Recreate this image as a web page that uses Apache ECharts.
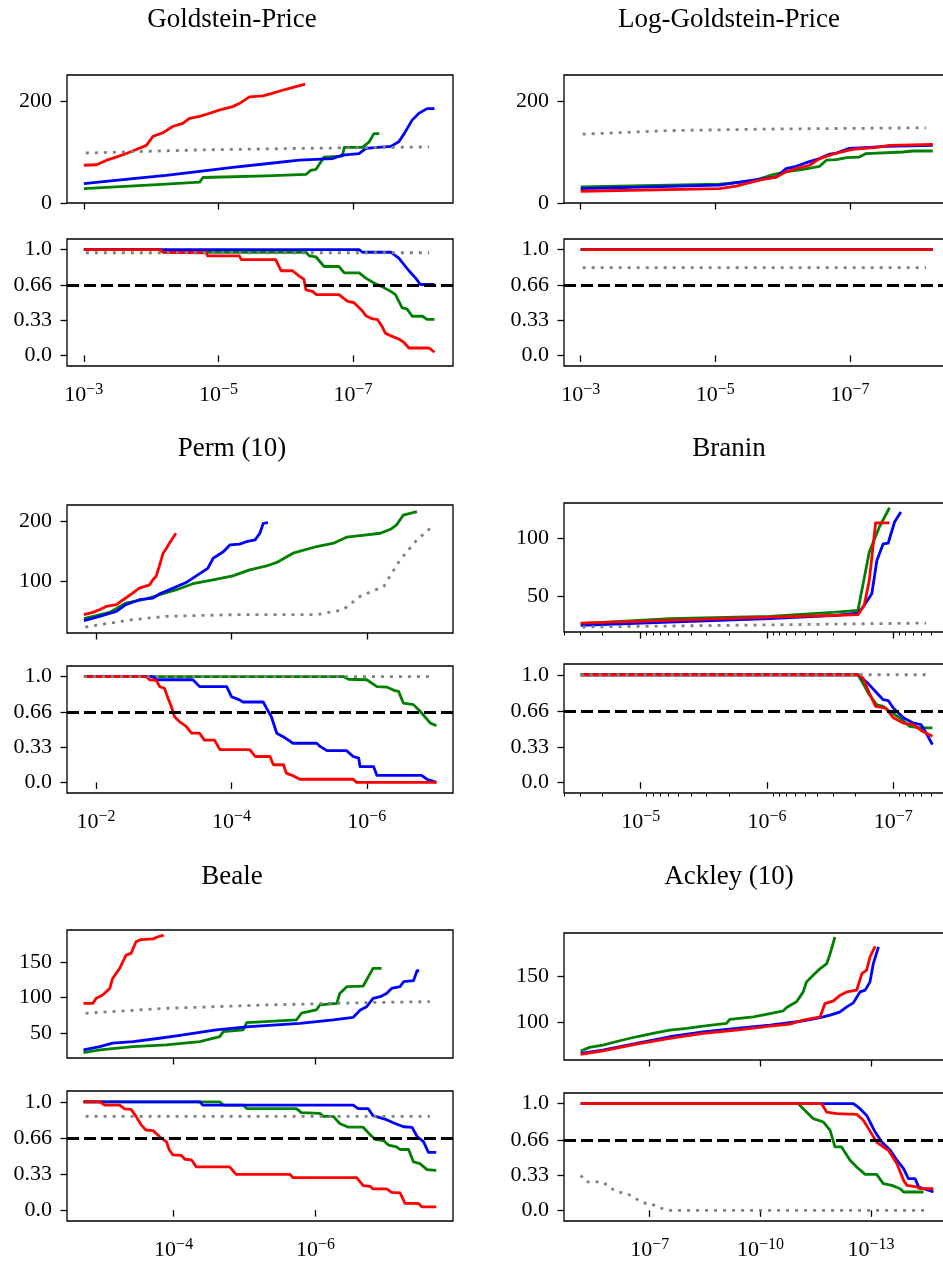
<!DOCTYPE html>
<html>
<head>
<meta charset="utf-8">
<script src="https://cdn.jsdelivr.net/npm/echarts@6/dist/echarts.min.js"></script>
<style>
  html, body { margin: 0; padding: 0; background: #fff; }
  #main { width: 943px; height: 1261px; }
</style>
</head>
<body>
<div id="main"></div>
<script>
// x = log10(tolerance). top rows: evaluations, bottom rows: success fraction

// Goldstein-Price
const gpTopGreen = [[-3.00,28],[-4.22,37],[-4.72,41],[-4.77,50],[-5.71,53],[-6.30,56],[-6.37,64],[-6.45,66],[-6.57,90],[-6.84,92],[-6.87,109],[-7.14,109],[-7.24,120],[-7.31,136],[-7.39,136]];
const gpTopBlue = [[-3.00,38],[-3.73,48],[-4.22,54],[-4.72,62],[-5.21,70],[-5.71,77],[-6.20,84],[-6.69,87],[-6.84,94],[-7.09,97],[-7.19,107],[-7.56,111],[-7.68,120],[-7.76,136],[-7.88,163],[-7.98,176],[-8.10,185],[-8.21,185]];
const gpTopRed = [[-3.00,74],[-3.19,75],[-3.34,84],[-3.48,90],[-3.63,97],[-3.78,105],[-3.93,113],[-4.03,131],[-4.18,138],[-4.32,150],[-4.47,156],[-4.57,166],[-4.72,170],[-4.87,176],[-5.01,182],[-5.21,189],[-5.31,195],[-5.46,208],[-5.66,210],[-5.80,215],[-6.00,223],[-6.15,228],[-6.29,233]];
const gpTopGray = [[-3.03,98],[-4.69,104],[-6.17,107],[-8.13,110]];
const gpBotGreen = [[-3.00,1.0],[-4.13,1.0],[-4.18,0.975],[-6.30,0.975],[-6.35,0.94],[-6.45,0.93],[-6.57,0.84],[-6.79,0.84],[-6.87,0.78],[-7.09,0.78],[-7.19,0.73],[-7.31,0.685],[-7.43,0.65],[-7.56,0.605],[-7.63,0.575],[-7.73,0.45],[-7.80,0.44],[-7.88,0.37],[-8.03,0.37],[-8.10,0.34],[-8.21,0.34]];
const gpBotBlue = [[-3.00,1.0],[-7.09,1.0],[-7.14,0.975],[-7.56,0.975],[-7.68,0.92],[-7.83,0.80],[-7.93,0.73],[-8.00,0.67],[-8.21,0.67]];
const gpBotRed = [[-3.00,1.0],[-4.13,1.0],[-4.18,0.975],[-4.82,0.97],[-4.84,0.94],[-5.31,0.94],[-5.34,0.905],[-5.85,0.905],[-5.93,0.80],[-6.10,0.80],[-6.20,0.75],[-6.27,0.72],[-6.30,0.62],[-6.40,0.605],[-6.45,0.575],[-6.79,0.575],[-6.92,0.51],[-7.01,0.50],[-7.14,0.42],[-7.19,0.375],[-7.29,0.345],[-7.36,0.34],[-7.43,0.275],[-7.48,0.21],[-7.58,0.18],[-7.68,0.155],[-7.76,0.12],[-7.83,0.07],[-8.13,0.07],[-8.21,0.03]];
const gpBotGray = [[-3.03,0.97],[-8.13,0.97]];

// Log-Goldstein-Price
const lgpTopGreen = [[-3.00,31.5],[-5.06,37],[-5.56,43],[-5.81,54],[-6.05,61],[-6.30,66],[-6.55,72],[-6.65,84],[-6.80,85],[-6.95,89],[-7.14,90],[-7.24,97],[-7.79,100],[-7.94,102],[-8.23,102]];
const lgpTopBlue = [[-3.00,28],[-5.06,35],[-5.56,45],[-5.91,51],[-6.05,67.5],[-6.20,72],[-6.35,79],[-6.55,87],[-6.70,96],[-6.80,98],[-6.99,107],[-7.29,109],[-7.54,111],[-8.23,113]];
const lgpTopRed = [[-3.00,23],[-5.06,28],[-5.31,33],[-5.66,45],[-5.91,51],[-6.05,61],[-6.20,67.5],[-6.40,74],[-6.55,87],[-6.80,98],[-7.04,105],[-7.39,109],[-7.59,113],[-8.23,115]];
const lgpTopGray = [[-3.03,135],[-4.32,142],[-5.81,145],[-8.13,147.5]];
const lgpBotGreen = [[-3.00,1.0],[-8.23,1.0]];
const lgpBotBlue = [[-3.00,1.0],[-8.23,1.0]];
const lgpBotRed = [[-3.00,1.0],[-8.23,1.0]];
const lgpBotGray = [[-3.03,0.83],[-8.13,0.83]];

// Perm (10)
const permTopGreen = [[-1.82,36],[-2.20,46.6],[-2.44,62.4],[-2.69,68],[-2.94,76.4],[-3.19,84.8],[-3.43,95],[-3.73,101.7],[-4.02,108.4],[-4.27,118.5],[-4.52,125],[-4.67,131],[-4.91,146.6],[-5.26,157.9],[-5.51,163.5],[-5.70,173.6],[-6.00,177.5],[-6.20,180.3],[-6.35,187],[-6.44,194.4],[-6.54,211],[-6.74,216.9]];
const permTopBlue = [[-1.82,32.6],[-2.05,40],[-2.30,48.3],[-2.44,59.6],[-2.64,68],[-2.84,70.8],[-2.94,78],[-3.14,87.6],[-3.33,97],[-3.48,108.4],[-3.65,121],[-3.73,138],[-3.88,149],[-3.98,160.7],[-4.12,162],[-4.22,166],[-4.35,169],[-4.42,180.3],[-4.47,197],[-4.54,198.3]];
const permTopRed = [[-1.82,42.7],[-1.95,46.6],[-2.05,51],[-2.15,56.7],[-2.30,59.6],[-2.40,68],[-2.54,79],[-2.64,87.6],[-2.79,93],[-2.84,101.7],[-2.89,108.4],[-2.94,127],[-2.99,146.6],[-3.04,155],[-3.09,164.6],[-3.18,180.3]];
const permTopGray = [[-1.84,21.9],[-2.05,25.8],[-2.54,34.3],[-3.04,40],[-4.02,42.7],[-5.26,42.7],[-5.65,51],[-5.90,73.6],[-6.25,90.4],[-6.49,135],[-6.74,169],[-6.94,188.8]];
const permBotGreen = [[-1.82,1.0],[-5.65,1.0],[-5.73,0.975],[-6.00,0.97],[-6.15,0.905],[-6.30,0.90],[-6.40,0.87],[-6.47,0.86],[-6.54,0.75],[-6.69,0.735],[-6.79,0.67],[-6.94,0.56],[-7.03,0.535]];
const permBotBlue = [[-1.82,1.0],[-2.84,1.0],[-2.89,0.97],[-3.43,0.97],[-3.53,0.905],[-3.93,0.905],[-4.00,0.81],[-4.12,0.78],[-4.17,0.76],[-4.47,0.76],[-4.52,0.70],[-4.59,0.62],[-4.67,0.465],[-4.77,0.43],[-4.91,0.37],[-5.26,0.37],[-5.31,0.34],[-5.41,0.30],[-5.70,0.30],[-5.80,0.245],[-5.88,0.23],[-5.90,0.15],[-6.10,0.15],[-6.15,0.066],[-6.81,0.066],[-6.89,0.03],[-7.03,0.0]];
const permBotRed = [[-1.82,1.0],[-2.74,1.0],[-2.79,0.97],[-2.89,0.965],[-2.94,0.905],[-3.01,0.89],[-3.06,0.80],[-3.11,0.72],[-3.16,0.62],[-3.23,0.575],[-3.33,0.53],[-3.41,0.465],[-3.53,0.465],[-3.60,0.40],[-3.75,0.40],[-3.83,0.31],[-4.27,0.31],[-4.35,0.245],[-4.57,0.245],[-4.62,0.167],[-4.77,0.167],[-4.81,0.088],[-4.91,0.063],[-5.01,0.03],[-5.80,0.03],[-5.85,0.0],[-7.03,0.0]];
const permBotGray = [[-1.82,1.0],[-6.94,1.0]];

// Branin
const braninTopGreen = [[-4.525,26.1],[-5.23,30.5],[-6.02,32.5],[-6.55,36.2],[-6.72,37.6],[-6.81,88],[-6.89,109.5],[-6.97,126.1]];
const braninTopBlue = [[-4.525,24.7],[-5.23,27.6],[-6.02,30.5],[-6.55,33.3],[-6.72,35.3],[-6.77,42],[-6.83,52],[-6.87,80.7],[-6.92,95],[-6.96,95.7],[-7.01,113.8],[-7.06,122.4]];
const braninTopRed = [[-4.525,26.7],[-5.23,29],[-6.02,31.9],[-6.55,33.3],[-6.72,33.9],[-6.77,42],[-6.81,63.5],[-6.86,113],[-6.97,113]];
const braninTopGray = [[-4.54,23.3],[-7.26,26.7]];
const braninBotGreen = [[-4.525,1.0],[-6.72,1.0],[-6.76,0.92],[-6.81,0.814],[-6.87,0.72],[-6.92,0.706],[-6.97,0.66],[-7.05,0.6],[-7.13,0.52],[-7.21,0.505],[-7.31,0.505]];
const braninBotBlue = [[-4.525,1.0],[-6.72,1.0],[-6.80,0.92],[-6.87,0.83],[-6.92,0.768],[-6.96,0.76],[-7.00,0.69],[-7.08,0.6],[-7.16,0.55],[-7.22,0.535],[-7.26,0.458],[-7.31,0.35]];
const braninBotRed = [[-4.525,1.0],[-6.72,1.0],[-6.76,0.97],[-6.81,0.83],[-6.86,0.706],[-6.94,0.69],[-7.00,0.6],[-7.08,0.55],[-7.16,0.535],[-7.23,0.474],[-7.31,0.427]];
const braninBotGray = [[-4.525,1.0],[-7.26,1.0]];

// Beale
const bealeTopGreen = [[-2.73,22.5],[-2.96,26.3],[-3.43,31],[-3.90,33.3],[-4.37,38],[-4.65,45],[-4.70,52],[-4.98,54.5],[-5.03,64.8],[-5.73,68.5],[-5.80,78],[-6.01,82.6],[-6.06,89.7],[-6.30,92],[-6.34,106],[-6.44,115.5],[-6.67,116.4],[-6.81,141.3],[-6.93,141.3]];
const bealeTopBlue = [[-2.73,26.3],[-2.96,31],[-3.14,35.7],[-3.43,38],[-3.80,42.7],[-4.04,46],[-4.60,54.5],[-5.07,59],[-5.78,63.8],[-6.25,68.5],[-6.53,72.3],[-6.63,82.6],[-6.72,87.3],[-6.81,99],[-6.91,101.4],[-7.00,106],[-7.07,113],[-7.19,115.5],[-7.24,122.5],[-7.38,124],[-7.43,138],[-7.46,138]];
const bealeTopRed = [[-2.73,92],[-2.86,92],[-2.91,99],[-3.00,103.8],[-3.10,113],[-3.14,127],[-3.24,141.3],[-3.33,160],[-3.40,162.4],[-3.47,178.9],[-3.54,182],[-3.71,183],[-3.78,186],[-3.86,188.3]];
const bealeTopGray = [[-2.76,78],[-3.90,85],[-5.31,89.7],[-6.72,93],[-7.61,94.4]];
const bealeBotGreen = [[-2.73,1.0],[-4.65,1.0],[-4.70,0.97],[-4.98,0.97],[-5.03,0.938],[-5.73,0.938],[-5.80,0.90],[-6.06,0.894],[-6.11,0.866],[-6.25,0.866],[-6.34,0.80],[-6.46,0.766],[-6.67,0.766],[-6.77,0.695],[-6.84,0.654],[-6.96,0.642],[-7.03,0.60],[-7.14,0.585],[-7.19,0.56],[-7.31,0.56],[-7.38,0.445],[-7.47,0.43],[-7.57,0.374],[-7.70,0.368]];
const bealeBotBlue = [[-2.73,1.0],[-4.37,1.0],[-4.41,0.97],[-6.53,0.97],[-6.60,0.938],[-6.74,0.938],[-6.81,0.872],[-7.00,0.835],[-7.12,0.80],[-7.24,0.77],[-7.36,0.764],[-7.43,0.68],[-7.52,0.632],[-7.59,0.533],[-7.70,0.533]];
const bealeBotRed = [[-2.73,1.0],[-2.96,1.0],[-3.03,0.97],[-3.24,0.97],[-3.31,0.935],[-3.40,0.93],[-3.47,0.866],[-3.54,0.79],[-3.61,0.74],[-3.71,0.735],[-3.80,0.68],[-3.90,0.63],[-3.94,0.555],[-3.99,0.51],[-4.11,0.505],[-4.16,0.47],[-4.25,0.465],[-4.32,0.40],[-4.79,0.40],[-4.88,0.33],[-5.64,0.33],[-5.68,0.30],[-6.58,0.30],[-6.67,0.227],[-6.77,0.22],[-6.81,0.196],[-7.00,0.196],[-7.07,0.165],[-7.19,0.16],[-7.26,0.062],[-7.45,0.062],[-7.50,0.03],[-7.70,0.03]];
const bealeBotGray = [[-2.76,0.866],[-7.61,0.866]];

// Ackley (10)
const ackleyTopGreen = [[-5.13,67.9],[-5.37,71.9],[-5.73,74.5],[-6.19,79.2],[-6.64,83.6],[-7.09,87.2],[-7.54,90.9],[-8.00,92.7],[-8.45,95.3],[-9.08,98.2],[-9.17,102.6],[-9.81,105.5],[-10.26,109.1],[-10.62,112],[-10.71,115.7],[-10.98,121.9],[-11.16,132.8],[-11.25,143.8],[-11.43,151.1],[-11.62,158.4],[-11.80,163.9],[-11.89,174.8],[-12.02,193]];
const ackleyTopBlue = [[-5.13,65.3],[-5.73,69],[-6.64,76.3],[-7.54,83.6],[-8.45,89],[-9.35,92.7],[-10.26,96.4],[-11.16,101.1],[-11.62,104.7],[-11.89,107.3],[-12.16,110.9],[-12.34,116.4],[-12.52,120.8],[-12.70,132.8],[-12.84,134.7],[-12.97,143.8],[-13.06,163.9],[-13.20,182.1]];
const ackleyTopRed = [[-5.13,64.2],[-5.73,68.2],[-6.64,75.5],[-7.54,81.8],[-8.45,87.2],[-9.35,90.9],[-10.26,95.3],[-10.80,97.4],[-11.16,101.8],[-11.62,105.5],[-11.75,120],[-11.98,123],[-12.16,129.2],[-12.34,132.8],[-12.61,134.7],[-12.75,152.9],[-12.88,156.6],[-12.97,171.2],[-13.11,182.8]];
const ackleyBotGreen = [[-5.13,1.0],[-11.03,1.0],[-11.16,0.953],[-11.43,0.86],[-11.71,0.828],[-11.89,0.75],[-12.02,0.594],[-12.20,0.594],[-12.43,0.469],[-12.61,0.406],[-12.84,0.337],[-13.15,0.337],[-13.33,0.25],[-13.56,0.234],[-13.79,0.203],[-13.88,0.172],[-14.42,0.172]];
const ackleyBotBlue = [[-5.13,1.0],[-12.52,1.0],[-12.70,0.953],[-12.88,0.89],[-13.11,0.734],[-13.29,0.64],[-13.52,0.563],[-13.70,0.47],[-13.88,0.39],[-14.01,0.297],[-14.19,0.297],[-14.29,0.219],[-14.51,0.194],[-14.69,0.172]];
const ackleyBotRed = [[-5.13,1.0],[-11.66,1.0],[-11.80,0.92],[-12.07,0.906],[-12.61,0.90],[-12.79,0.844],[-12.93,0.766],[-13.15,0.64],[-13.33,0.594],[-13.47,0.563],[-13.70,0.437],[-13.88,0.281],[-13.97,0.234],[-14.24,0.219],[-14.33,0.203],[-14.69,0.203]];
const ackleyBotGray = [[-5.13,0.328],[-5.28,0.266],[-5.73,0.266],[-5.91,0.219],[-6.10,0.172],[-6.37,0.16],[-6.55,0.125],[-6.82,0.069],[-7.05,0.063],[-7.18,0.031],[-7.54,0.0],[-14.51,0.0]];

// tick positions
const gpTickExps = [-3, -5, -7];
const permTickExps = [-2, -4, -6];
const braninTickExps = [-5, -6, -7];
const bealeTickExps = [-4, -6];
const ackleyTickExps = [-7, -10, -13];
const braninMinorTicks = [4e-5, 3e-5, 2e-5, 9e-6, 8e-6, 7e-6, 6e-6, 5e-6, 4e-6, 3e-6, 2e-6,
  9e-7, 8e-7, 7e-7, 6e-7, 5e-7, 4e-7, 3e-7, 2e-7, 9e-8, 8e-8, 7e-8, 6e-8, 5e-8, 4e-8];
const fracTicks = [0, 0.33, 0.66, 1.0];
const threshold = 0.66;

const FONT = 'Liberation Serif';
const lineColors = ['#008000', '#0000ff', '#ff0000', '#808080'];
const colLeft = [67, 564];
const colTitleX = [232, 729];
const plotWidth = 386;

const panels = [
  { title: 'Goldstein-Price', col: 0, titleY: 20, box: [75, 128, 239, 127],
    xRange: [-8.485, -2.75], major: gpTickExps, minor: [], yRange: [0, 251], yTicks: [0, 200],
    top: [gpTopGreen, gpTopBlue, gpTopRed, gpTopGray], bottom: [gpBotGreen, gpBotBlue, gpBotRed, gpBotGray] },
  { title: 'Log-Goldstein-Price', col: 1, titleY: 20, box: [75, 128, 239, 127],
    xRange: [-8.487, -2.752], major: gpTickExps, minor: [], yRange: [0, 251], yTicks: [0, 200],
    top: [lgpTopGreen, lgpTopBlue, lgpTopRed, lgpTopGray], bottom: [lgpBotGreen, lgpBotBlue, lgpBotRed, lgpBotGray] },
  { title: 'Perm (10)', col: 0, titleY: 448.5, box: [505, 128, 666, 127],
    xRange: [-7.274, -1.570], major: permTickExps, minor: [], yRange: [11.8, 228], yTicks: [100, 200],
    top: [permTopGreen, permTopBlue, permTopRed, permTopGray], bottom: [permBotGreen, permBotBlue, permBotRed, permBotGray] },
  { title: 'Branin', col: 1, titleY: 448.5, box: [503, 129, 664, 129],
    xRange: [-7.449, -4.393], major: braninTickExps, minor: braninMinorTicks.map(Math.log10), yRange: [19, 130.2], yTicks: [50, 100],
    top: [braninTopGreen, braninTopBlue, braninTopRed, braninTopGray], bottom: [braninBotGreen, braninBotBlue, braninBotRed, braninBotGray] },
  { title: 'Beale', col: 0, titleY: 877, box: [930, 128, 1091, 130],
    xRange: [-7.936, -2.498], major: bealeTickExps, minor: [], yRange: [14.8, 195.5], yTicks: [50, 100, 150],
    top: [bealeTopGreen, bealeTopBlue, bealeTopRed, bealeTopGray], bottom: [bealeBotGreen, bealeBotBlue, bealeBotRed, bealeBotGray] },
  { title: 'Ackley (10)', col: 1, titleY: 877, box: [933, 127, 1093, 128],
    xRange: [-15.138, -4.678], major: ackleyTickExps, minor: [], yRange: [58.1, 197.4], yTicks: [100, 150],
    top: [ackleyTopGreen, ackleyTopBlue, ackleyTopRed, null], bottom: [ackleyBotGreen, ackleyBotBlue, ackleyBotRed, ackleyBotGray] }
];

const tickStyle = { color: '#000', width: 1.3 };

const option = {
  animation: false,
  backgroundColor: '#fff',
  grid: [], xAxis: [], yAxis: [], series: [],
  graphic: panels.map(p => ({
    type: 'text', x: colTitleX[p.col], y: p.titleY, silent: true,
    style: { text: p.title, font: '27px "' + FONT + '"', fill: '#000',
      align: 'center', verticalAlign: 'middle', textAlign: 'center', textVerticalAlign: 'middle' }
  }))
};

panels.forEach(p => {
  [false, true].forEach(isBottom => {
    const gi = option.grid.length;
    option.grid.push({
      left: colLeft[p.col], top: isBottom ? p.box[2] : p.box[0], width: plotWidth,
      height: isBottom ? p.box[3] : p.box[1],
      show: true, borderColor: '#000', borderWidth: 1.3, backgroundColor: 'transparent',
      containLabel: false, outerBoundsMode: 'none'
    });

    const xi = option.xAxis.length;
    option.xAxis.push({
      type: 'value', gridIndex: gi, position: 'bottom', min: p.xRange[0], max: p.xRange[1], inverse: true,
      axisLine: { show: false }, splitLine: { show: false },
      axisTick: { show: true, length: 6.5, lineStyle: tickStyle, customValues: p.major },
      axisLabel: {
        show: isBottom, customValues: p.major, margin: 16,
        formatter: v => '{b|10}{s|\u2212' + Math.abs(Math.round(v)) + '}',
        rich: {
          b: { fontFamily: FONT, fontSize: 22, color: '#000', lineHeight: 26 },
          s: { fontFamily: FONT, fontSize: 16, color: '#000', lineHeight: 16, verticalAlign: 'top' }
        }
      }
    });
    if (p.minor.length) {
      option.xAxis.push({
        type: 'value', gridIndex: gi, position: 'bottom', min: p.xRange[0], max: p.xRange[1], inverse: true,
        axisLine: { show: false }, splitLine: { show: false }, axisLabel: { show: false },
        axisTick: { show: true, length: 3.5, lineStyle: { color: '#000', width: 1 }, customValues: p.minor }
      });
    }

    const yi = option.yAxis.length;
    const yTicks = isBottom ? fracTicks : p.yTicks;
    option.yAxis.push({
      type: 'value', gridIndex: gi,
      min: isBottom ? -0.1 : p.yRange[0], max: isBottom ? 1.1 : p.yRange[1],
      axisLine: { show: false }, splitLine: { show: false },
      axisTick: { show: true, length: 6.5, lineStyle: tickStyle, customValues: yTicks },
      axisLabel: {
        customValues: yTicks, margin: 15, fontFamily: FONT, fontSize: 22, color: '#000',
        formatter: v => isBottom ? (v === 0 ? '0.0' : v === 1 ? '1.0' : String(v)) : String(v)
      }
    });

    const lines = isBottom ? p.bottom : p.top;
    lines.forEach((data, k) => {
      if (!data) return;
      const s = {
        type: 'line', xAxisIndex: xi, yAxisIndex: yi, data: data,
        symbol: 'none', showSymbol: false, silent: true, z: 2 + k,
        lineStyle: { color: lineColors[k], width: 2.8, type: k === 3 ? [3, 6] : 'solid', join: 'round' }
      };
      if (isBottom && k === 3) {
        s.markLine = {
          silent: true, symbol: 'none', label: { show: false }, animation: false,
          lineStyle: { color: '#000', width: 2.8, type: [12, 5] },
          emphasis: { disabled: true },
          data: [{ yAxis: threshold }]
        };
      }
      option.series.push(s);
    });
  });
});

const chart = echarts.init(document.getElementById('main'), null, { renderer: 'canvas' });
chart.setOption(option);
</script>
</body>
</html>
